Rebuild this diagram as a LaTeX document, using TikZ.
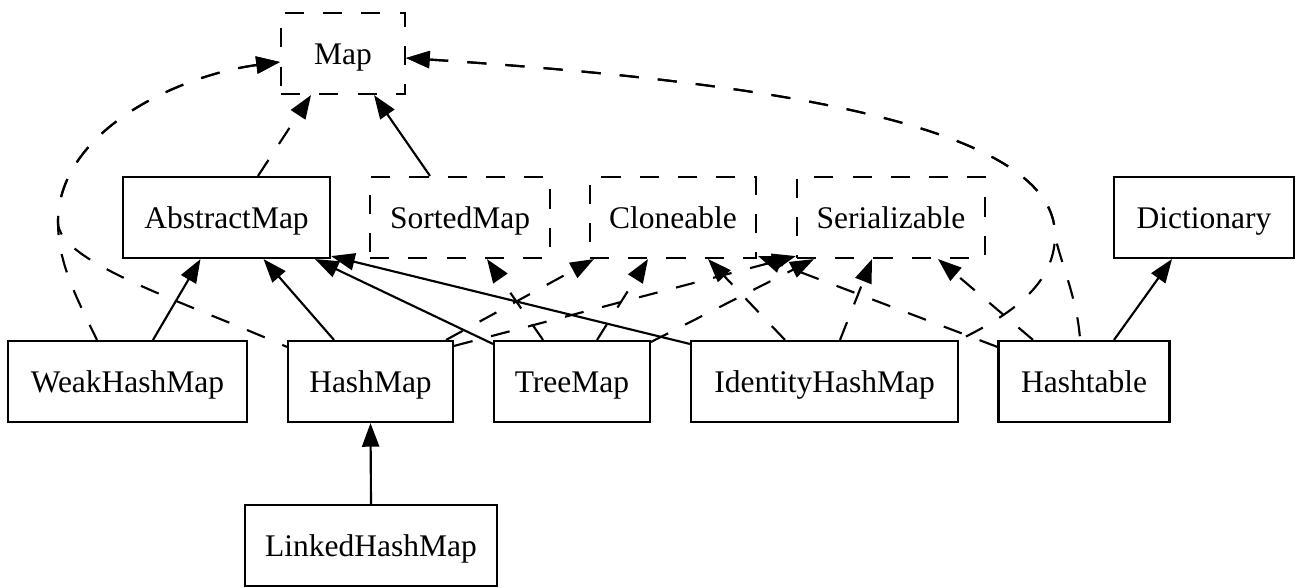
\documentclass[tikz,border=0pt]{standalone}
\usepackage{fontspec}
\setmainfont{Liberation Serif}
\usetikzlibrary{arrows.meta,calc}
\tikzset{
  box/.style={draw, line width=0.95pt, minimum height=36pt, inner sep=0pt, text height=12pt, text depth=1.8pt, font=\fontsize{14pt}{16pt}\selectfont},
  iface/.style={box, dash pattern=on 8.5pt off 8.5pt},
  ext/.style={line width=0.95pt, -{Triangle[length=10.5pt,width=7.6pt]}},
  impl/.style={ext, dash pattern=on 8.5pt off 8.5pt},
  implr/.style={line width=0.95pt, {Triangle[length=10.5pt,width=7.6pt]}-, dash pattern=on 8.5pt off 8.5pt},
}
\begin{document}
\begin{tikzpicture}[x=0.4444pt,y=-0.4444pt]
\fill[white] (0,0) rectangle (1299,587);
\useasboundingbox (0,0) rectangle (1299,587);
% nodes
\node[iface, minimum width=55.1pt] (Map) at (343,53.5) {Map};
\node[box, minimum width=92pt] (AbstractMap) at (226.5,217.5) {AbstractMap};
\node[iface, minimum width=80pt] (SortedMap) at (460,217.5) {SortedMap};
\node[iface, minimum width=73.8pt] (Cloneable) at (673,217.5) {Cloneable};
\node[iface, minimum width=83.6pt] (Serializable) at (891,217.5) {Serializable};
\node[box, minimum width=80.2pt] (Dictionary) at (1204,217.5) {Dictionary};
\node[box, minimum width=106.2pt] (WeakHashMap) at (127.5,381.5) {WeakHashMap};
\node[box, minimum width=73.3pt] (HashMap) at (370.5,381.5) {HashMap};
\node[box, minimum width=69.3pt] (TreeMap) at (572,381.5) {TreeMap};
\node[box, minimum width=118.7pt] (IdentityHashMap) at (824.5,381.5) {IdentityHashMap};
\node[box, minimum width=76pt] (Hashtable) at (1084,381.5) {Hashtable};
\node[box, minimum width=112pt] (LinkedHashMap) at (371,545.5) {LinkedHashMap};
% edges to Map
\draw[impl] ($(AbstractMap.north)+(31.5,0)$) -- ($(Map.south)+(-32,0)$);
\draw[ext] ($(SortedMap.north)+(-30,0)$) -- ($(Map.south)+(31,0)$);
\draw[implr] ($(Map.west)+(0,8.5)$) .. controls (180,75) and (58,130) .. (58,222) .. controls (58,262) and (75,295) .. ($(WeakHashMap.north)+(-30.5,0)$);
\draw[implr] ($(Map.west)+(0,8.5)$) .. controls (180,75) and (58,130) .. (58,222) .. controls (58,262) and (180,300) .. ($(HashMap.north west)+(0,7)$);
\draw[implr] ($(Map.east)+(0,4.5)$) .. controls (740,80) and (1055,120) .. (1055,235) .. controls (1058,255) and (1078,300) .. ($(Hashtable.north)+(-4,0)$);
\draw[implr] ($(Map.east)+(0,4.5)$) .. controls (740,80) and (1055,120) .. (1055,235) .. controls (1055,285) and (1010,315) .. (IdentityHashMap.north east);
% extends
\draw[ext] ($(WeakHashMap.north)+(25.5,0)$) -- ($(AbstractMap.south)+(-26,0)$);
\draw[ext] ($(HashMap.north)+(-36.5,0)$) -- ($(AbstractMap.south)+(37,0)$);
\draw[ext] ($(TreeMap.north west)+(0,4)$) -- ($(AbstractMap.south)+(88.5,0)$);
\draw[ext] ($(IdentityHashMap.north west)+(0,4)$) -- ($(AbstractMap.south east)+(0,-3)$);
\draw[ext] (LinkedHashMap.north) -- (HashMap.south);
\draw[ext] ($(Hashtable.north)+(30,0)$) -- ($(Dictionary.south)+(-32,0)$);
% implements
\draw[impl] ($(TreeMap.north)+(-29,0)$) -- ($(SortedMap.south)+(27,0)$);
\draw[impl] ($(TreeMap.north)+(25,0)$) -- ($(Cloneable.south)+(-25,0)$);
\draw[impl] ($(TreeMap.north east)+(0,2)$) -- ($(Serializable.south west)+(18,0)$);
\draw[impl] ($(HashMap.north east)+(-8,0)$) -- ($(Cloneable.south west)+(5,0)$);
\draw[impl] ($(HashMap.north east)+(0,6)$) -- ($(Serializable.south west)+(0,-3)$);
\draw[impl] ($(IdentityHashMap.north)+(-39.5,0)$) -- ($(Cloneable.south)+(35,0)$);
\draw[impl] ($(IdentityHashMap.north)+(15.5,0)$) -- ($(Serializable.south)+(-19,0)$);
\draw[impl] ($(Hashtable.north west)+(0,7)$) -- ($(Cloneable.south east)+(1,-3)$);
\draw[impl] ($(Hashtable.north)+(-51,0)$) -- ($(Serializable.south)+(47,0)$);
\end{tikzpicture}
\end{document}
